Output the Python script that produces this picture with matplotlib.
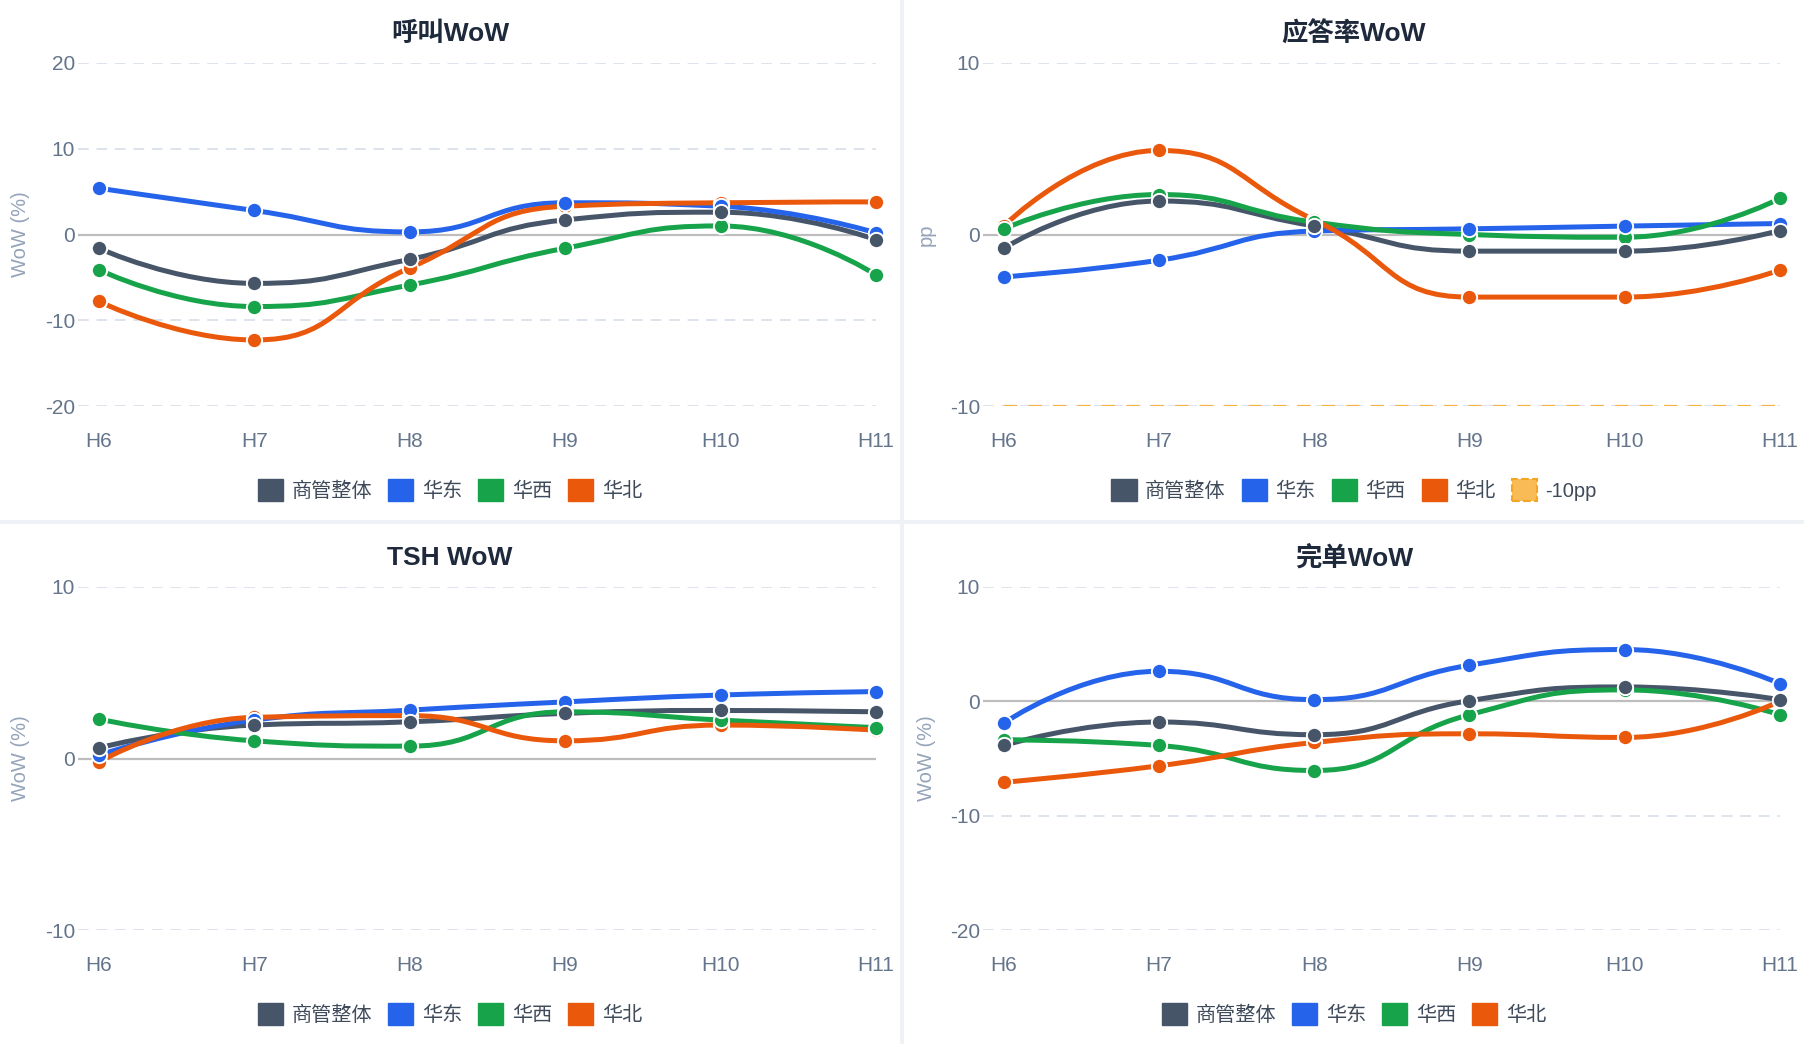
import numpy as np
import matplotlib
matplotlib.use("Agg")
import matplotlib.pyplot as plt
from matplotlib.path import Path
from matplotlib.patches import PathPatch, Patch, Rectangle

plt.rcParams['font.family'] = ['Liberation Sans', 'Noto Sans CJK SC', 'DejaVu Sans']

# ---------------- data ----------------
hours = ["H6", "H7", "H8", "H9", "H10", "H11"]
series_names = ["商管整体", "华东", "华西", "华北"]
series_colors = ["#475569", "#2563eb", "#16a34a", "#ea580c"]

call_overall = [-1.6, -5.7, -2.9, 1.7, 2.6, -0.6]
call_east = [5.4, 2.8, 0.3, 3.7, 3.3, 0.2]
call_west = [-4.1, -8.4, -5.9, -1.6, 1.0, -4.7]
call_north = [-7.8, -12.3, -3.9, 3.3, 3.7, 3.8]

ans_overall = [-0.8, 1.95, 0.5, -0.97, -0.97, 0.23]
ans_east = [-2.47, -1.5, 0.2, 0.33, 0.49, 0.64]
ans_west = [0.33, 2.33, 0.72, 0.0, -0.16, 2.1]
ans_north = [0.5, 4.9, 0.85, -3.65, -3.65, -2.08]
ans_threshold = -10

tsh_overall = [0.62, 1.95, 2.14, 2.63, 2.8, 2.72]
tsh_east = [0.2, 2.24, 2.82, 3.3, 3.7, 3.9]
tsh_west = [2.3, 1.03, 0.72, 2.72, 2.24, 1.8]
tsh_north = [-0.2, 2.4, 2.5, 1.03, 1.95, 1.65]

done_overall = [-3.86, -1.81, -2.92, 0.06, 1.26, 0.15]
done_east = [-1.9, 2.63, 0.15, 3.16, 4.53, 1.55]
done_west = [-3.36, -3.86, -6.05, -1.17, 1.0, -1.17]
done_north = [-7.08, -5.64, -3.6, -2.84, -3.16, 0.0]

panels = [
    dict(title="呼叫WoW", ylabel="WoW (%)", yticks=[-20, -10, 0, 10, 20],
         data=[call_overall, call_east, call_west, call_north]),
    dict(title="应答率WoW", ylabel="pp", yticks=[-10, 0, 10],
         data=[ans_overall, ans_east, ans_west, ans_north], threshold=ans_threshold),
    dict(title="TSH WoW", ylabel="WoW (%)", yticks=[-10, 0, 10],
         data=[tsh_overall, tsh_east, tsh_west, tsh_north]),
    dict(title="完单WoW", ylabel="WoW (%)", yticks=[-20, -10, 0, 10],
         data=[done_overall, done_east, done_west, done_north]),
]

# ---------------- layout (pixels) ----------------
W, H = 1804, 1044
fig = plt.figure(figsize=(W / 100, H / 100), dpi=100, facecolor="white")

div_color = "#eef2f7"
fig.patches.append(Rectangle((900 / W, 0), 4 / W, 1, transform=fig.transFigure,
                             facecolor=div_color, edgecolor="none", zorder=0))
fig.patches.append(Rectangle((0, 1 - 524 / H), 1, 4 / H, transform=fig.transFigure,
                             facecolor=div_color, edgecolor="none", zorder=0))

tick_color = "#64748b"
label_color = "#94a3b8"
title_color = "#1e293b"
legend_text = "#3f4a5a"


def smooth_path(xs, ys, sx, sy, smooth=0.5):
    P = [(x * sx, y * sy) for x, y in zip(xs, ys)]
    n = len(P)
    verts = [P[0]]
    codes = [Path.MOVETO]
    cp0 = P[0]
    for i in range(1, n):
        x, y = P[i]
        px, py = P[i - 1]
        if i == n - 1:
            cp1 = (x, y)
            ncp0 = None
        else:
            nx, ny = P[i + 1]
            vx, vy = nx - px, ny - py
            lp = np.hypot(x - px, y - py)
            ln = np.hypot(nx - x, ny - y)
            r = ln / (ln + lp)
            ncx = x + vx * smooth * r
            ncy = y + vy * smooth * r
            ncx = min(ncx, max(nx, x)); ncy = min(ncy, max(ny, y))
            ncx = max(ncx, min(nx, x)); ncy = max(ncy, min(ny, y))
            vx, vy = ncx - x, ncy - y
            c1x = x - vx * lp / ln
            c1y = y - vy * lp / ln
            c1x = min(c1x, max(px, x)); c1y = min(c1y, max(py, y))
            c1x = max(c1x, min(px, x)); c1y = max(c1y, min(py, y))
            vx, vy = x - c1x, y - c1y
            cp1 = (c1x, c1y)
            ncp0 = (x + vx * ln / lp, y + vy * ln / lp)
        verts += [cp0, cp1, (x, y)]
        codes += [Path.CURVE4] * 3
        cp0 = ncp0
    verts = [(vx_ / sx, vy_ / sy) for vx_, vy_ in verts]
    return Path(verts, codes)


col_x = [(78, 876, 0), (983, 1780, 904)]   # axes left, axes right, panel left
row_y = [(63, 406, 0), (587, 930, 524)]    # axes top, axes bottom, panel top
panel_w = [900, 900]

x_left = -0.133
x_right = 5.0

for idx, p in enumerate(panels):
    r, c = divmod(idx, 2)
    al, ar, pl = col_x[c]
    at, ab, pt = row_y[r]
    ax = fig.add_axes([al / W, 1 - ab / H, (ar - al) / W, (ab - at) / H])
    ax.set_facecolor("none")
    for s in ax.spines.values():
        s.set_visible(False)
    ymin, ymax = p["yticks"][0], p["yticks"][-1]
    ax.set_xlim(x_left, x_right)
    ax.set_ylim(ymin, ymax)

    for t in p["yticks"]:
        if t == 0:
            ax.axhline(0, color="#bdbdbd", lw=1.6, zorder=1)
        else:
            ax.axhline(t, color="#dde3ec", lw=1.4, ls=(0, (5.5, 4)), zorder=1)

    if "threshold" in p:
        ax.axhline(p["threshold"], xmin=(0 - x_left) / (x_right - x_left), xmax=1,
                   color="#f6b142", lw=1.6, ls=(0, (6, 5)), zorder=1.5)

    ax.set_xticks(range(len(hours)))
    ax.set_xticklabels(hours)
    ax.set_yticks(p["yticks"])
    ax.set_yticklabels([str(t) for t in p["yticks"]])
    ax.tick_params(axis="both", length=0, labelsize=15, labelcolor=tick_color)
    ax.tick_params(axis="y", pad=2)
    ax.tick_params(axis="x", pad=25.5)
    for lab in ax.get_xticklabels():
        lab.set_va("center")

    sx = (ar - al) / (x_right - x_left)
    sy = (ab - at) / (ymax - ymin)
    xs = list(range(len(hours)))
    for i, (vals, col) in enumerate(zip(p["data"], series_colors)):
        path = smooth_path(xs, vals, sx, sy)
        ax.add_patch(PathPatch(path, facecolor="none", edgecolor=col, lw=3.6,
                               capstyle="round", joinstyle="round", zorder=2 + i * 0.01))
    for i, (vals, col) in enumerate(zip(p["data"], series_colors)):
        ax.plot(xs, vals, ls="none", marker="o", markersize=11, markerfacecolor=col,
                markeredgecolor="white", markeredgewidth=1.4, zorder=4 - i * 0.01, clip_on=False)

    # title
    cx = pl + panel_w[c] / 2
    fig.text(cx / W, 1 - (pt + 34) / H, p["title"], ha="center", va="center",
             fontsize=19, fontweight="bold", color=title_color)
    # y label
    fig.text((al - 57) / W, 1 - ((at + ab) / 2) / H, p["ylabel"], ha="center", va="center",
             rotation=90, fontsize=14.5, color=label_color)

    # legend
    handles = [Patch(facecolor=col, edgecolor=col) for col in series_colors]
    labels = list(series_names)
    if "threshold" in p:
        handles.append(Patch(facecolor="#f8bb55", edgecolor="#f5a524", linestyle="--", linewidth=1.5))
        labels.append("-10pp")
    fig.legend(handles, labels, loc="center", bbox_to_anchor=(cx / W, 1 - (pt + 490) / H),
               ncol=len(labels), frameon=False, fontsize=14.5, labelcolor=legend_text,
               handlelength=1.25, handleheight=1.25, handletextpad=0.42, columnspacing=0.8,
               borderaxespad=0)

fig.savefig("out.png", dpi=100, facecolor="white")
